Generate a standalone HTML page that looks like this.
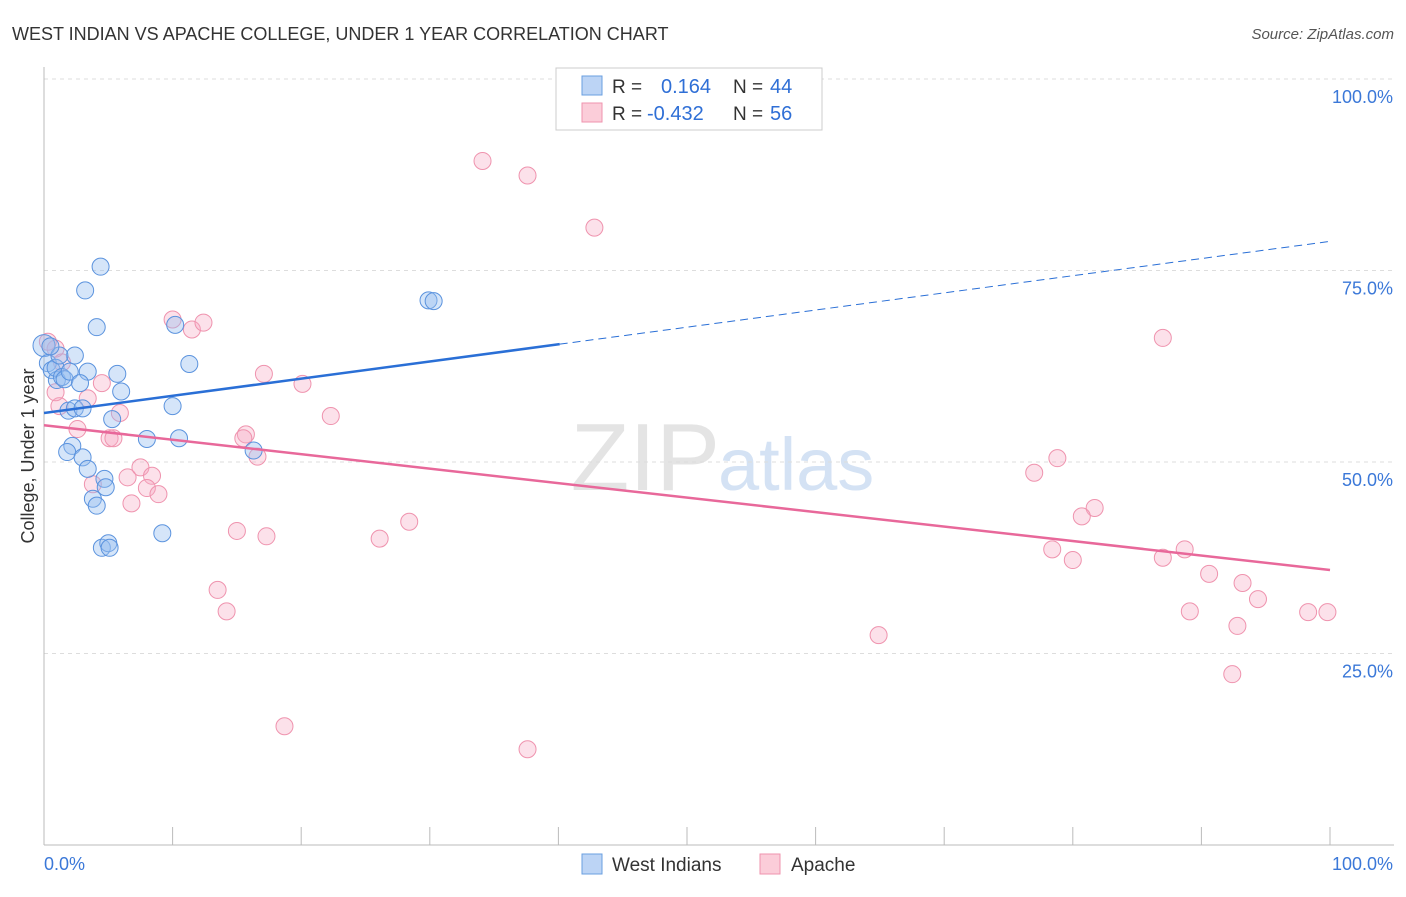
<!DOCTYPE html>
<html><head><meta charset="utf-8">
<style>
body{margin:0;background:#fff;font-family:"Liberation Sans",sans-serif;}
svg text{font-family:"Liberation Sans",sans-serif;}
</style></head>
<body>
<svg id="chart" width="1406" height="892">
<text x="12" y="40" font-size="18" fill="#333">WEST INDIAN VS APACHE COLLEGE, UNDER 1 YEAR CORRELATION CHART</text>
<text x="1394" y="39" font-size="15" fill="#555" font-style="italic" text-anchor="end">Source: ZipAtlas.com</text>
<text x="720" y="490" font-size="96" fill="#e4e4e4" font-family="Liberation Serif" text-anchor="end">ZIP</text>
<text x="718" y="490" font-size="74" fill="#d4e2f4">atlas</text>
<g id="grid"></g>
<g id="axes"></g>
<g id="pts"></g>
<g id="lines"></g>
<text transform="translate(34,456) rotate(-90)" font-size="18" fill="#333" text-anchor="middle">College, Under 1 year</text>
<g>
<rect x="556" y="68" width="266" height="62" fill="#fff" stroke="#ccc"/>
<rect x="582" y="76" width="20" height="19" fill="#bcd4f5" stroke="#6a9fe0"/>
<rect x="582" y="103" width="20" height="19" fill="#fbcdd9" stroke="#ef93ae"/>
<text x="612" y="93" font-size="19" fill="#333">R = </text><text x="661" y="93" font-size="20" fill="#2f6fd6">0.164</text>
<text x="733" y="93" font-size="19" fill="#333">N = </text><text x="770" y="93" font-size="20" fill="#2f6fd6">44</text>
<text x="612" y="120" font-size="19" fill="#333">R = </text><text x="647" y="120" font-size="20" fill="#2f6fd6">-0.432</text>
<text x="733" y="120" font-size="19" fill="#333">N = </text><text x="770" y="120" font-size="20" fill="#2f6fd6">56</text>
</g>
<g>
<rect x="582" y="854" width="20" height="20" fill="#bcd4f5" stroke="#6a9fe0"/>
<text x="612" y="871" font-size="19" fill="#333">West Indians</text>
<rect x="760" y="854" width="20" height="20" fill="#fbcdd9" stroke="#ef93ae"/>
<text x="791" y="871" font-size="19" fill="#333">Apache</text>
</g>
</svg>
<script>
const yTicks=[25,50,75,100];
const xTickLabels=["0.0%","100.0%"];
const blueX=[0,0.3,0.6,1,0.9,1.4,1.6,2,2.4,3.4,2.8,5.7,6,1.9,2.4,3,5.3,2.2,1.8,3,3.4,3.8,4.1,4.7,4.8,4.5,5,5.1,8,9.2,10,10.5,10.2,11.3,16.3,29.9,30.3,3.2,4.4,4.1,1.2,0.5];
const blueY=[65.2,62.9,62,60.7,62.3,61.1,60.8,61.8,63.9,61.8,60.3,61.5,59.2,56.7,57,57,55.6,52.1,51.3,50.6,49.1,45.2,44.3,47.8,46.7,38.8,39.4,38.8,53,40.7,57.3,53.1,67.9,62.8,51.5,71.1,71,72.4,75.5,67.6,63.9,65.1];
const pinkX=[34.1,37.6,42.8,87,10,11.5,12.4,17.1,20.1,22.3,15.7,15.5,16.6,5.9,4.5,3.4,2.6,1.2,0.9,5.1,5.4,7.5,8.4,6.5,8,8.9,6.8,3.8,15,17.3,13.5,14.2,18.7,26.1,28.4,37.6,64.9,78.8,77,81.7,80.7,78.4,80,87,88.7,90.6,89.1,93.2,94.4,92.8,92.4,98.3,99.8,0.9,0.3,1.4];
const pinkY=[89.3,87.4,80.6,66.2,68.6,67.3,68.2,61.5,60.2,56,53.6,53.1,50.7,56.4,60.3,58.3,54.3,57.3,59.1,53.1,53.1,49.3,48.2,48,46.6,45.8,44.6,47.1,41,40.3,33.3,30.5,15.5,40,42.2,12.5,27.4,50.5,48.6,44,42.9,38.6,37.2,37.5,38.6,35.4,30.5,34.2,32.1,28.6,22.3,30.4,30.4,64.8,65.7,63];
const blueLine=[56.4,78.8]; const pinkLine=[54.8,35.9];
const X=v=>44+v*12.86, Y=v=>845-v*7.66;
const NS="http://www.w3.org/2000/svg";
function mk(tag,attrs,parent){const e=document.createElementNS(NS,tag);for(const k in attrs)e.setAttribute(k,attrs[k]);document.getElementById(parent).appendChild(e);return e;}
yTicks.forEach(t=>{
 const g=mk('line',{x1:44,y1:Y(t),x2:1394,y2:Y(t),stroke:'#ddd','stroke-dasharray':'4,4'},'grid');
 
 
 const tx=mk('text',{x:1393,y:Y(t)+24,'font-size':18,fill:'#3b78d8','text-anchor':'end'},'grid');
 tx.textContent=t.toFixed(1)+'%';
 
 
});
mk('line',{x1:44,y1:67,x2:44,y2:845,stroke:'#bbb'},'axes');
mk('line',{x1:44,y1:845,x2:1394,y2:845,stroke:'#bbb'},'axes');
for(let i=0;i<=10;i++){const t=mk('line',{x1:X(i*10),y1:827,x2:X(i*10),y2:845,stroke:'#bbb'},'axes');
 
 }
const xl=mk('text',{x:44,y:870,'font-size':18,fill:'#3b78d8'},'axes');xl.textContent=xTickLabels[0];


const xr=mk('text',{x:1393,y:870,'font-size':18,fill:'#3b78d8','text-anchor':'end'},'axes');xr.textContent=xTickLabels[1];


pinkX.forEach((x,i)=>{const c=mk('circle',{cx:X(x),cy:Y(pinkY[i]),r:8.5,fill:'rgba(246,170,195,0.35)',stroke:'#ef93ae','stroke-width':1},'pts');
 
 });
blueX.forEach((x,i)=>{const c=mk('circle',{cx:X(x),cy:Y(blueY[i]),r:(i==0?11:8.5),fill:'rgba(150,190,240,0.4)',stroke:'#5b93de','stroke-width':1},'pts');
 
 });
const bm=v=>blueLine[0]+(blueLine[1]-blueLine[0])*v/100;
let b1=mk('line',{x1:X(0),y1:Y(bm(0)),x2:X(40.1),y2:Y(bm(40.1)),stroke:'#2a6fd6','stroke-width':2.5},'lines');


let b2=mk('line',{x1:X(40.1),y1:Y(bm(40.1)),x2:X(100),y2:Y(bm(100)),stroke:'#2a6fd6','stroke-width':1,'stroke-dasharray':'8,5'},'lines');


let p1=mk('line',{x1:X(0),y1:Y(pinkLine[0]),x2:X(100),y2:Y(pinkLine[1]),stroke:'#e8689a','stroke-width':2.5},'lines');


</script>
</body></html>
